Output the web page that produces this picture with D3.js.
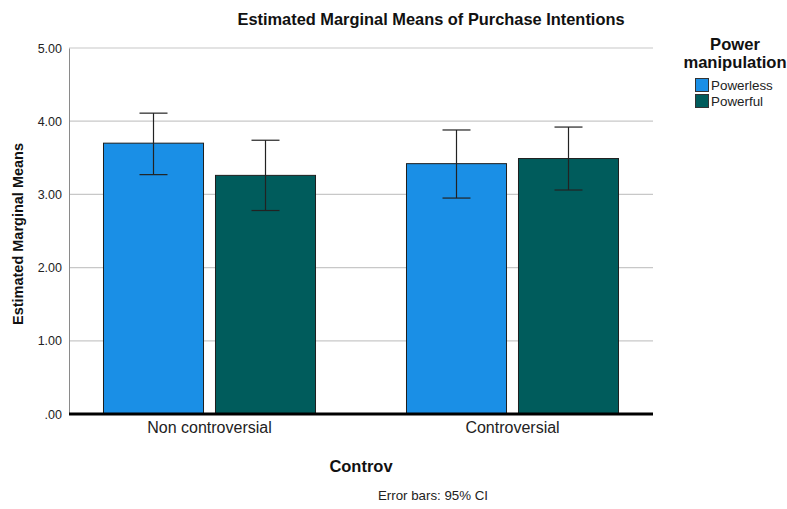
<!DOCTYPE html>
<html>
<head>
<meta charset="utf-8">
<script src="https://cdn.jsdelivr.net/npm/d3@7"></script>
<style>
  body { margin: 0; background: #fff; }
  svg { display: block; font-family: "Liberation Sans", Arial, sans-serif; }
</style>
</head>
<body>
<svg id="chart" width="787" height="509"></svg>
<script>
// Estimated marginal means with 95% CI per condition
const categories = ["Non controversial", "Controversial"];
const series = ["Powerless", "Powerful"];
const means = [
  [3.70, 3.26],
  [3.42, 3.49]
];
const ciLow = [
  [3.27, 2.78],
  [2.95, 3.06]
];
const ciHigh = [
  [4.11, 3.74],
  [3.88, 3.92]
];
const yTicks = [0, 1, 2, 3, 4, 5];
const colors = ["#1a8fe6", "#005c5c"];

const svg = d3.select("#chart");

const plot = { left: 69, right: 653, top: 48, bottom: 414 };

const y = d3.scaleLinear().domain([0, 5]).range([plot.bottom, plot.top]);
const x0 = d3.scaleBand().domain(categories).range([58, 664]).paddingInner(0).paddingOuter(0);
const x1 = d3.scaleBand().domain(series).range([0, x0.bandwidth()])
  .paddingInner(0.098).paddingOuter(0.4017);

// gridlines
svg.append("g").selectAll("line").data(yTicks.filter(d => d > 0)).join("line")
  .attr("x1", plot.left).attr("x2", plot.right)
  .attr("y1", d => y(d)).attr("y2", d => y(d))
  .attr("stroke", "#c8c8c8").attr("stroke-width", 1.2);

// y axis
const yAxis = d3.axisLeft(y).tickValues(yTicks).tickSize(0).tickPadding(7)
  .tickFormat(d => d === 0 ? ".00" : d3.format(".2f")(d));
const gy = svg.append("g").attr("transform", `translate(${plot.left},0)`).call(yAxis);
gy.select(".domain").attr("stroke", "#8a8a8a").attr("stroke-width", 1);
gy.selectAll("text").attr("font-size", 12.5).attr("fill", "#222");

// bars
const groups = svg.append("g").selectAll("g").data(categories).join("g")
  .attr("transform", d => `translate(${x0(d)},0)`);

groups.each(function (cat, ci) {
  const g = d3.select(this);
  series.forEach((s, si) => {
    g.append("rect")
      .attr("x", x1(s) + 0.5).attr("y", y(means[ci][si]))
      .attr("width", x1.bandwidth() - 1)
      .attr("height", y(0) - y(means[ci][si]))
      .attr("fill", colors[si])
      .attr("stroke", "#1e1e1e").attr("stroke-width", 1);
  });
  series.forEach((s, si) => {
    const cx = x1(s) + x1.bandwidth() / 2;
    const capW = 14;
    const eb = g.append("g").attr("stroke", "#222").attr("stroke-width", 1.2).attr("fill", "none");
    eb.append("line").attr("x1", cx).attr("x2", cx)
      .attr("y1", y(ciHigh[ci][si])).attr("y2", y(ciLow[ci][si]));
    eb.append("line").attr("x1", cx - capW).attr("x2", cx + capW)
      .attr("y1", y(ciHigh[ci][si])).attr("y2", y(ciHigh[ci][si]));
    eb.append("line").attr("x1", cx - capW).attr("x2", cx + capW)
      .attr("y1", y(ciLow[ci][si])).attr("y2", y(ciLow[ci][si]));
  });
});

// x axis baseline
svg.append("line")
  .attr("x1", plot.left).attr("x2", plot.right)
  .attr("y1", y(0)).attr("y2", y(0))
  .attr("stroke", "#000").attr("stroke-width", 3);

// x axis tick labels
const xAxis = d3.axisBottom(x0).tickSize(0).tickPadding(8);
const gx = svg.append("g").attr("transform", `translate(0,${plot.bottom})`).call(xAxis);
gx.select(".domain").remove();
gx.selectAll("text").attr("font-size", 16).attr("fill", "#222");

// titles
svg.append("text").attr("x", 431).attr("y", 25).attr("text-anchor", "middle")
  .attr("font-size", 16.4).attr("font-weight", "bold").attr("fill", "#111")
  .text("Estimated Marginal Means of Purchase Intentions");

svg.append("text").attr("transform", "translate(23,234) rotate(-90)")
  .attr("text-anchor", "middle").attr("font-size", 14).attr("font-weight", "bold")
  .attr("fill", "#111").attr("textLength", 182).attr("lengthAdjust", "spacingAndGlyphs")
  .text("Estimated Marginal Means");

svg.append("text").attr("x", 361).attr("y", 472).attr("text-anchor", "middle")
  .attr("font-size", 16.5).attr("font-weight", "bold").attr("fill", "#111")
  .text("Controv");

svg.append("text").attr("x", 433).attr("y", 500).attr("text-anchor", "middle")
  .attr("font-size", 13.3).attr("fill", "#222")
  .text("Error bars: 95% CI");

// legend
const legend = svg.append("g");
legend.append("text").attr("x", 735).attr("y", 50).attr("text-anchor", "middle")
  .attr("font-size", 16.6).attr("font-weight", "bold").attr("fill", "#111").text("Power");
legend.append("text").attr("x", 735).attr("y", 68).attr("text-anchor", "middle")
  .attr("font-size", 16.6).attr("font-weight", "bold").attr("fill", "#111").text("manipulation");
series.forEach((s, i) => {
  const ly = 79 + i * 16;
  legend.append("rect").attr("x", 695.5).attr("y", ly - 0.5).attr("width", 13).attr("height", 13)
    .attr("fill", colors[i]).attr("stroke", "#333").attr("stroke-width", 1);
  legend.append("text").attr("x", 711).attr("y", ly + 11)
    .attr("font-size", 13.4).attr("fill", "#222").text(s);
});
</script>
</body>
</html>
